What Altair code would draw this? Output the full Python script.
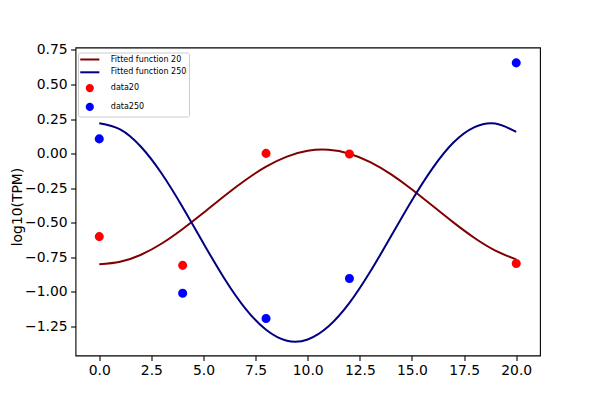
import altair as alt
import pandas as pd

# fitted curves (at integer x)
t_fit = list(range(0, 21))
fit20 = [-0.800, -0.782, -0.731, -0.650, -0.545, -0.428, -0.306, -0.192, -0.094, -0.021,
         0.021, 0.028, 0.000, -0.061, -0.150, -0.259, -0.379, -0.499, -0.610, -0.701, -0.765]
fit250 = [0.220, 0.176, 0.050, -0.145, -0.387, -0.649, -0.903, -1.119, -1.274, -1.353,
          -1.344, -1.249, -1.080, -0.853, -0.596, -0.337, -0.103, 0.082, 0.192, 0.218, 0.157]

# measured data
t_data = [0, 4, 8, 12, 20]
data20 = [-0.600, -0.808, 0.002, -0.002, -0.795]
data250 = [0.107, -1.010, -1.192, -0.903, 0.657]

series_names = ["Fitted function 20", "Fitted function 250", "data20", "data250"]
series_colors = ["#800000", "#000080", "#ff0000", "#0000ff"]
legend_shapes = ["M-3.1,0H3.1", "M-3.1,0H3.1", "circle", "circle"]
x_ticks = [0, 2.5, 5, 7.5, 10, 12.5, 15, 17.5, 20]
y_ticks = [0.75, 0.5, 0.25, 0.0, -0.25, -0.5, -0.75, -1.0, -1.25]

lines_df = pd.concat([
    pd.DataFrame({"t": t_fit, "y": fit20, "series": series_names[0]}),
    pd.DataFrame({"t": t_fit, "y": fit250, "series": series_names[1]}),
])
points_df = pd.concat([
    pd.DataFrame({"t": t_data, "y": data20, "series": series_names[2]}),
    pd.DataFrame({"t": t_data, "y": data250, "series": series_names[3]}),
])

FONT = "DejaVu Sans"

legend = alt.Legend(
    title=None,
    orient="none",
    legendX=2.5,
    legendY=5,
    padding=2.5,
    fillColor="white",
    strokeColor="#cccccc",
    cornerRadius=2,
    labelFont=FONT,
    labelFontSize=8,
    labelColor="black",
    labelOffset=16.5,
    symbolOffset=4.8,
    symbolSize=38,
    symbolStrokeWidth=2,
    symbolOpacity=1,
    rowPadding=3.8,
)

x_enc = alt.X(
    "t:Q",
    scale=alt.Scale(domain=[-1.14, 21.14], nice=False, zero=False),
    axis=alt.Axis(values=x_ticks, format=".1f", title=None),
)
y_enc = alt.Y(
    "y:Q",
    scale=alt.Scale(domain=[-1.460, 0.768], nice=False, zero=False),
    axis=alt.Axis(values=y_ticks, format=".2f", title="log10(TPM)", titleY=159, titlePadding=0),
)

lines = alt.Chart(lines_df).mark_line(strokeWidth=2, interpolate="natural").encode(
    x=x_enc,
    y=y_enc,
    color=alt.Color("series:N", scale=alt.Scale(domain=series_names[:2], range=series_colors[:2]), legend=None),
)
points = alt.Chart(points_df).mark_point(filled=True, size=50, strokeWidth=2, opacity=1).encode(
    x=x_enc,
    y=y_enc,
    fill=alt.Fill("series:N", scale=alt.Scale(domain=series_names, range=series_colors), legend=legend),
    stroke=alt.Stroke("series:N", scale=alt.Scale(domain=series_names, range=series_colors), legend=legend),
    shape=alt.Shape("series:N", scale=alt.Scale(domain=series_names, range=legend_shapes), legend=legend),
)

chart = alt.layer(lines, points).properties(
    width=464.5,
    height=308,
    background="white",
    autosize=alt.AutoSizeParams(type="none"),
    padding={"left": 67.5, "top": 39.5, "right": 52, "bottom": 37},
).resolve_scale(
    color="independent"
).configure_view(
    stroke="black", strokeWidth=1.1
).configure_axis(
    grid=False,
    domain=False,
    labelFont=FONT,
    labelFontSize=13.9,
    labelColor="black",
    tickColor="black",
    tickSize=4.9,
    tickWidth=1.1,
    labelPadding=3.5,
    titleFont=FONT,
    titleFontSize=13.9,
    titleFontWeight="normal",
    titleColor="black",
)

chart.save("out.html", embed_options={"renderer": "svg", "actions": False})
